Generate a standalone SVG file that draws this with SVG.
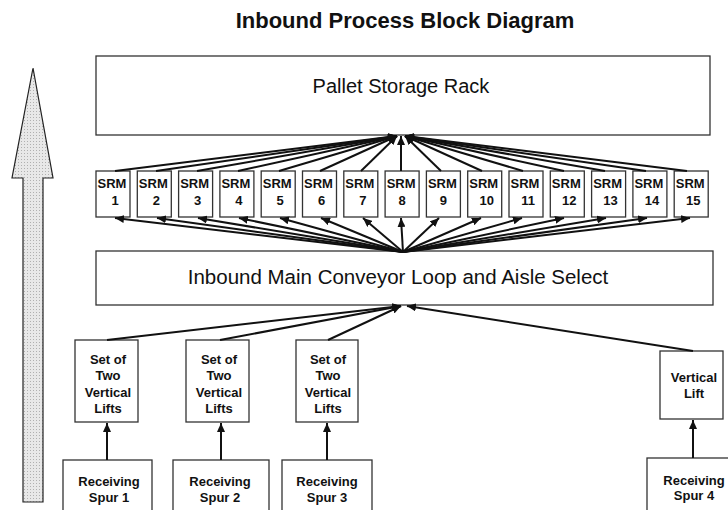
<svg xmlns="http://www.w3.org/2000/svg" width="728" height="510" viewBox="0 0 728 510">
<style>
.box{fill:#fff;stroke:#333;stroke-width:1.3}
.ln{stroke:#111;stroke-width:2;fill:none;marker-end:url(#ah)}
.t{font-family:"Liberation Sans",Arial,sans-serif;fill:#111;text-anchor:middle}
.big{font-size:20px}
.sm{font-size:13px;font-weight:bold}
.title{font-size:22px;font-weight:bold}
</style>
<defs>
<marker id="ah" markerUnits="userSpaceOnUse" markerWidth="10" markerHeight="8" refX="9" refY="4" orient="auto">
<path d="M0,0 L9,4 L0,8 Z" fill="#111"/>
</marker>
<pattern id="dots" width="3" height="3" patternUnits="userSpaceOnUse">
<rect width="3" height="3" fill="#e8e8e8"/>
<rect width="1" height="1" fill="#b0b0b0"/>
</pattern>
</defs>
<text class="t title" x="405" y="28">Inbound Process Block Diagram</text>
<g id="bigarrow">
<polygon points="33,68 53,178 43,178 43,502 23,502 23,178 12,178" fill="url(#dots)" stroke="#222" stroke-width="1.2"/>
</g>
<g id="rack"><rect class="box" x="96" y="56" width="614" height="79"/><text class="t big" x="401" y="93">Pallet Storage Rack</text></g>
<g id="conveyor"><rect class="box" x="96" y="251" width="617" height="54"/><text class="t big" x="398" y="284" style="font-size:20.5px">Inbound Main Conveyor Loop and Aisle Select</text></g>
<g id="srm1"><rect class="box" x="96" y="171" width="34" height="46"/><text class="t sm" x="112" y="188">SRM</text><text class="t sm" x="115" y="205">1</text></g>
<g id="srm2"><rect class="box" x="137.3" y="171" width="34" height="46"/><text class="t sm" x="153.3" y="188">SRM</text><text class="t sm" x="156.3" y="205">2</text></g>
<g id="srm3"><rect class="box" x="178.6" y="171" width="34" height="46"/><text class="t sm" x="194.6" y="188">SRM</text><text class="t sm" x="197.6" y="205">3</text></g>
<g id="srm4"><rect class="box" x="219.9" y="171" width="34" height="46"/><text class="t sm" x="235.9" y="188">SRM</text><text class="t sm" x="238.9" y="205">4</text></g>
<g id="srm5"><rect class="box" x="261.2" y="171" width="34" height="46"/><text class="t sm" x="277.2" y="188">SRM</text><text class="t sm" x="280.2" y="205">5</text></g>
<g id="srm6"><rect class="box" x="302.5" y="171" width="34" height="46"/><text class="t sm" x="318.5" y="188">SRM</text><text class="t sm" x="321.5" y="205">6</text></g>
<g id="srm7"><rect class="box" x="343.8" y="171" width="34" height="46"/><text class="t sm" x="359.8" y="188">SRM</text><text class="t sm" x="362.8" y="205">7</text></g>
<g id="srm8"><rect class="box" x="385.1" y="171" width="34" height="46"/><text class="t sm" x="401.1" y="188">SRM</text><text class="t sm" x="402.1" y="205">8</text></g>
<g id="srm9"><rect class="box" x="426.4" y="171" width="34" height="46"/><text class="t sm" x="442.4" y="188">SRM</text><text class="t sm" x="443.4" y="205">9</text></g>
<g id="srm10"><rect class="box" x="467.7" y="171" width="34" height="46"/><text class="t sm" x="483.7" y="188">SRM</text><text class="t sm" x="486.7" y="205">10</text></g>
<g id="srm11"><rect class="box" x="509" y="171" width="34" height="46"/><text class="t sm" x="525" y="188">SRM</text><text class="t sm" x="528" y="205">11</text></g>
<g id="srm12"><rect class="box" x="550.3" y="171" width="34" height="46"/><text class="t sm" x="566.3" y="188">SRM</text><text class="t sm" x="569.3" y="205">12</text></g>
<g id="srm13"><rect class="box" x="591.6" y="171" width="34" height="46"/><text class="t sm" x="607.6" y="188">SRM</text><text class="t sm" x="610.6" y="205">13</text></g>
<g id="srm14"><rect class="box" x="632.9" y="171" width="34" height="46"/><text class="t sm" x="648.9" y="188">SRM</text><text class="t sm" x="651.9" y="205">14</text></g>
<g id="srm15"><rect class="box" x="674.2" y="171" width="34" height="46"/><text class="t sm" x="690.2" y="188">SRM</text><text class="t sm" x="693.2" y="205">15</text></g>
<g id="lift1"><rect class="box" x="75" y="340" width="63" height="82"/><text class="t sm" x="108" y="364">Set of</text><text class="t sm" x="108" y="380">Two</text><text class="t sm" x="108" y="397">Vertical</text><text class="t sm" x="108" y="413">Lifts</text></g>
<g id="lift2"><rect class="box" x="186" y="340" width="63" height="82"/><text class="t sm" x="219" y="364">Set of</text><text class="t sm" x="219" y="380">Two</text><text class="t sm" x="219" y="397">Vertical</text><text class="t sm" x="219" y="413">Lifts</text></g>
<g id="lift3"><rect class="box" x="296" y="340" width="62" height="82"/><text class="t sm" x="328" y="364">Set of</text><text class="t sm" x="328" y="380">Two</text><text class="t sm" x="328" y="397">Vertical</text><text class="t sm" x="328" y="413">Lifts</text></g>
<g id="lift4"><rect class="box" x="660" y="351" width="63" height="68"/><text class="t sm" x="694" y="382">Vertical</text><text class="t sm" x="694" y="398">Lift</text></g>
<g id="spur1"><rect class="box" x="63" y="460" width="89" height="60"/><text class="t sm" x="109" y="486">Receiving</text><text class="t sm" x="109" y="502">Spur 1</text></g>
<g id="spur2"><rect class="box" x="173" y="460" width="96" height="60"/><text class="t sm" x="220" y="486">Receiving</text><text class="t sm" x="220" y="502">Spur 2</text></g>
<g id="spur3"><rect class="box" x="282" y="460" width="90" height="60"/><text class="t sm" x="327" y="486">Receiving</text><text class="t sm" x="327" y="502">Spur 3</text></g>
<g id="spur4"><rect class="box" x="647" y="458" width="90" height="60"/><text class="t sm" x="694" y="485">Receiving</text><text class="t sm" x="694" y="500">Spur 4</text></g>
<g id="connectors">
<line class="ln" x1="115" y1="171" x2="397" y2="136"/>
<line class="ln" x1="156" y1="171" x2="397" y2="136"/>
<line class="ln" x1="197" y1="171" x2="397" y2="136"/>
<line class="ln" x1="238" y1="171" x2="397" y2="136"/>
<line class="ln" x1="279" y1="171" x2="397" y2="136"/>
<line class="ln" x1="320" y1="171" x2="397" y2="136"/>
<line class="ln" x1="361" y1="171" x2="397" y2="136"/>
<line class="ln" x1="401" y1="171" x2="401" y2="136"/>
<line class="ln" x1="441" y1="171" x2="405" y2="136"/>
<line class="ln" x1="482" y1="171" x2="405" y2="136"/>
<line class="ln" x1="523" y1="171" x2="405" y2="136"/>
<line class="ln" x1="564" y1="171" x2="405" y2="136"/>
<line class="ln" x1="605" y1="171" x2="405" y2="136"/>
<line class="ln" x1="646" y1="171" x2="405" y2="136"/>
<line class="ln" x1="687" y1="171" x2="405" y2="136"/>
<line class="ln" x1="403" y1="252" x2="115" y2="218"/>
<line class="ln" x1="403" y1="252" x2="157" y2="218"/>
<line class="ln" x1="403" y1="252" x2="198" y2="218"/>
<line class="ln" x1="403" y1="252" x2="239" y2="218"/>
<line class="ln" x1="403" y1="252" x2="280" y2="218"/>
<line class="ln" x1="403" y1="252" x2="321" y2="218"/>
<line class="ln" x1="403" y1="252" x2="363" y2="218"/>
<line class="ln" x1="403" y1="252" x2="401" y2="218"/>
<line class="ln" x1="403" y1="252" x2="439" y2="218"/>
<line class="ln" x1="403" y1="252" x2="481" y2="218"/>
<line class="ln" x1="403" y1="252" x2="522" y2="218"/>
<line class="ln" x1="403" y1="252" x2="564" y2="218"/>
<line class="ln" x1="403" y1="252" x2="606" y2="218"/>
<line class="ln" x1="403" y1="252" x2="647" y2="218"/>
<line class="ln" x1="403" y1="252" x2="690" y2="218"/>
<line class="ln" x1="107" y1="340" x2="401" y2="306"/>
<line class="ln" x1="220" y1="340" x2="401" y2="306"/>
<line class="ln" x1="328" y1="340" x2="401" y2="306"/>
<line class="ln" x1="693" y1="351" x2="407" y2="306"/>
<line class="ln" x1="107" y1="460" x2="107" y2="423"/>
<line class="ln" x1="221" y1="460" x2="221" y2="423"/>
<line class="ln" x1="327" y1="460" x2="327" y2="423"/>
<line class="ln" x1="693" y1="458" x2="693" y2="420"/>
</g>
</svg>
